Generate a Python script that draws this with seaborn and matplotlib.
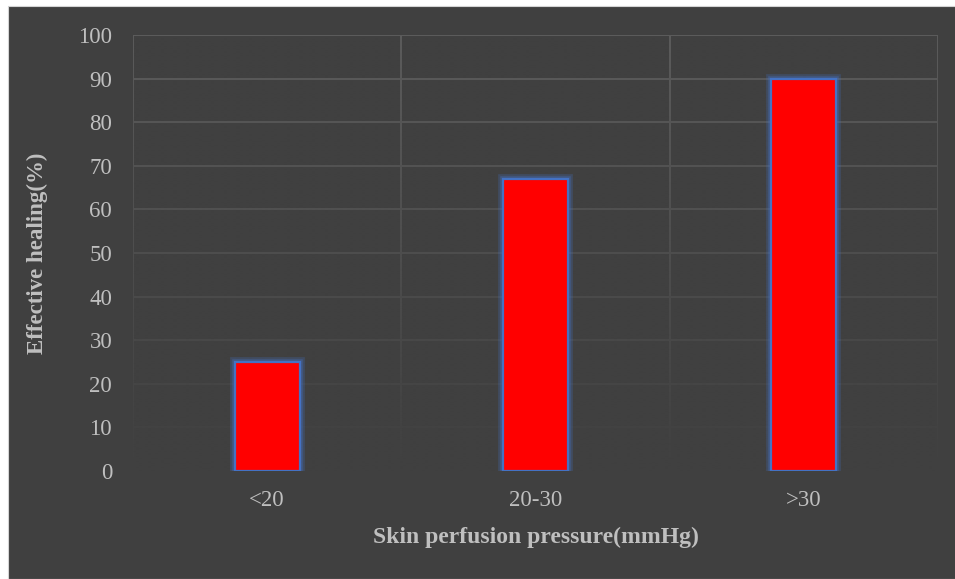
import matplotlib
matplotlib.use("Agg")
import matplotlib.pyplot as plt
import matplotlib.patheffects as pe
from matplotlib.patches import Rectangle
import matplotlib.colors as mcolors
import seaborn as sns
import numpy as np
import pandas as pd

# Data
categories = ["<20", "20-30", ">30"]
healing = [25, 67, 90]
y_ticks = [0, 10, 20, 30, 40, 50, 60, 70, 80, 90, 100]

BG = "#404040"
TXT = "#bfbfbf"
GRID = "#5c5c5c"

sns.set_theme(style="dark")
plt.rcParams["font.family"] = ["Liberation Serif", "DejaVu Serif"]

df = pd.DataFrame({"pressure": categories, "healing": healing})

fig = plt.figure(figsize=(9.55, 5.79), dpi=100)
fig.patch.set_facecolor("white")
# dark chart area inside a thin light margin
fig.add_artist(Rectangle((8 / 955, 0), 1, 1 - 6 / 579,
                         transform=fig.transFigure, facecolor=BG,
                         edgecolor="#d4d4d4", linewidth=0.8, zorder=-10))

ax = fig.add_axes([133 / 955, 1 - 471 / 579, (938 - 133) / 955, (471 - 35) / 579])
ax.set_facecolor(BG)

sns.barplot(data=df, x="pressure", y="healing", color="red", width=0.243,
            edgecolor="#4472C4", linewidth=1.6, saturation=1, ax=ax, zorder=3)

glow = [pe.Stroke(linewidth=7, foreground="#4472C4", alpha=0.25),
        pe.Stroke(linewidth=4, foreground="#4472C4", alpha=0.35),
        pe.Normal()]
for p in ax.patches:
    p.set_path_effects(glow)

n = len(categories)
ax.set_yticks(y_ticks)
ax.set_xticks(range(n))
ax.set_xticks([i - 0.5 for i in range(n + 1)], minor=True)

ax.grid(False)
ax.yaxis.grid(True, color=GRID, linewidth=1.4, zorder=0)
ax.xaxis.grid(True, which="minor", color=GRID, linewidth=1.4, zorder=0)
ax.set_axisbelow(True)

# gridlines fade out towards the baseline: background-coloured veil,
# transparent at the top and opaque at the bottom, drawn under the bars
veil = np.zeros((256, 1, 4))
veil[..., :3] = mcolors.to_rgb(BG)
veil[:, 0, 3] = np.linspace(0.0, 1.0, 256)
ax.imshow(veil, extent=(-0.5, n - 0.5, 0, 100), aspect="auto",
          origin="upper", zorder=1, interpolation="bilinear")
ax.set_xlim(-0.5, n - 0.5)
ax.set_ylim(0, 100)

for s in ax.spines.values():
    s.set_visible(False)

ax.tick_params(axis="both", which="both", length=0, colors=TXT, labelsize=16.5)
ax.tick_params(axis="y", pad=15)
ax.tick_params(axis="x", pad=14)

ax.set_xlabel("Skin perfusion pressure(mmHg)", fontsize=17, fontweight="bold",
              color=TXT, labelpad=11)
ax.set_ylabel("Effective healing(%)", fontsize=16.5, fontweight="bold",
              color=TXT, labelpad=22)

fig.savefig("out.png", dpi=100, facecolor=fig.get_facecolor())
